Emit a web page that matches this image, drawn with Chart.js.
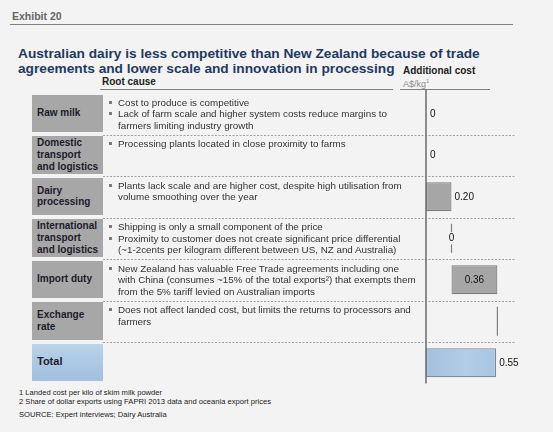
<!DOCTYPE html>
<html>
<head>
<meta charset="utf-8">
<script src="https://cdn.jsdelivr.net/npm/chart.js@4.4.1/dist/chart.umd.min.js"></script>
<style>
  html, body { margin: 0; padding: 0; background: #f3f3f3; }
  body { width: 553px; height: 432px; position: relative; overflow: hidden;
         font-family: "Liberation Sans", Arial, sans-serif; }
  .abs { position: absolute; white-space: nowrap; }
  #chart { position: absolute; left: 0; top: 0; z-index: 1; }
  .rule { position: absolute; height: 0; border-top: 1px solid #7f7f7f; }
  .box { position: absolute; left: 32px; width: 71px; background: #a7a7a7; z-index: 0;
         display: flex; align-items: center; }
  .box span { padding-left: 5px; font-weight: bold; font-size: 10px; line-height: 11.6px;
              color: #1c1c2a; white-space: pre; }
  .box.total { background: linear-gradient(180deg, #bcd3ea 0%, #a9c6e3 60%, #a2bfdf 100%); }
  .box.total span { font-size: 11px; }
  .cause { position: absolute; left: 108px; z-index: 2; font-size: 9.8px; line-height: 11.5px; color: #333; }
  .cause div { position: relative; padding-left: 10px; white-space: pre; }
  .cause div:before { content: ""; position: absolute; left: 1px; top: 4px; width: 3px; height: 3px; background: #7a7a7a; }
</style>
</head>
<body>
<div class="abs" style="left:12px;top:9.5px;font-size:10.5px;line-height:13px;font-weight:bold;color:#666;">Exhibit 20</div>
<div class="rule" style="left:10px;top:24px;width:503px;"></div>

<div class="abs" style="left:18px;top:46px;font-size:13.7px;line-height:15px;font-weight:bold;color:#1f3a60;">Australian dairy is less competitive than New Zealand because of trade<br>agreements and lower scale and innovation in processing</div>

<div class="abs" style="left:102px;top:75.5px;font-size:10px;line-height:12px;font-weight:bold;color:#222;">Root cause</div>
<div class="abs" style="left:403px;top:64.5px;font-size:10px;line-height:12px;font-weight:bold;color:#222;">Additional cost</div>
<div class="abs" style="left:403px;top:75px;font-size:9px;line-height:12px;color:#8c8c8c;">A$/kg<sup style="font-size:6px;">1</sup></div>
<div class="rule" style="left:100px;top:89px;width:293px;"></div>
<div class="rule" style="left:400px;top:89px;width:90px;"></div>

<canvas id="chart" width="553" height="432" style="width:553px;height:432px;"></canvas>

<div class="abs" style="left:19px;top:388px;font-size:7.6px;line-height:9px;color:#222;">1 Landed cost per kilo of skim milk powder<br>2 Share of dollar exports using FAPRI 2013 data and oceania export prices</div>
<div class="abs" style="left:19px;top:410px;font-size:7.6px;line-height:9px;color:#222;">SOURCE: Expert interviews; Dairy Australia</div>

<script>
const categories = ["Raw milk", "Domestic\ntransport\nand logistics", "Dairy\nprocessing",
  "International\ntransport\nand logistics", "Import duty", "Exchange\nrate", "Total"];
const increments = [0, 0, 0.20, 0, 0.36, 0];   // additional cost per step, A$/kg
const totalCost = 0.55;
const valueLabels = ["0", "0", "0.20", "0", "0.36", "", "0.55"];
const xMax = 0.7;

const causes = [
  ["Cost to produce is competitive",
   "Lack of farm scale and higher system costs reduce margins to\nfarmers limiting industry growth"],
  ["Processing plants located in close proximity to farms"],
  ["Plants lack scale and are higher cost, despite high utilisation from\nvolume smoothing over the year"],
  ["Shipping is only a small component of the price",
   "Proximity to customer does not create significant price differential\n(~1-2cents per kilogram different between US, NZ and Australia)"],
  ["New Zealand has valuable Free Trade agreements including one\nwith China (consumes ~15% of the total exports\u00B2) that exempts them\nfrom the 5% tariff levied on Australian imports"],
  ["Does not affect landed cost, but limits the returns to processors and\nfarmers"],
  []
];

// waterfall: each step floats on the running total, total starts at 0
let running = 0;
const floating = increments.map(v => {
  const seg = [running, running + v];
  running += v;
  return seg;
});
floating.push([0, totalCost]);
const totalIdx = floating.length - 1;

const costPlugin = {
  id: "costPlugin",
  beforeDatasetsDraw(chart) {
    const { ctx, scales: { y } } = chart;
    const step = y.getPixelForValue(1) - y.getPixelForValue(0);
    ctx.save();
    // dotted row separators
    ctx.strokeStyle = "#a0a0a0";
    ctx.lineWidth = 1;
    ctx.setLineDash([2, 1.5]);
    for (let i = 0; i < categories.length - 1; i++) {
      const yy = Math.round(y.getPixelForValue(i) + step / 2) + 0.5;
      ctx.beginPath();
      ctx.moveTo(103, yy);
      ctx.lineTo(516, yy);
      ctx.stroke();
    }
    ctx.restore();
  },
  afterDatasetsDraw(chart) {
    const { ctx, chartArea, scales: { x } } = chart;
    const meta = chart.getDatasetMeta(0);
    const x0 = x.getPixelForValue(0);
    ctx.save();
    // zero-cost steps: thin connector at the running total
    ctx.strokeStyle = "#808080";
    ctx.lineWidth = 1.2;
    meta.data.forEach(bar => {
      if (Math.abs(bar.x - bar.base) < 0.5 && Math.abs(bar.x - x0) > 1) {
        ctx.beginPath();
        ctx.moveTo(bar.x, bar.y - bar.height / 2);
        ctx.lineTo(bar.x, bar.y + bar.height / 2);
        ctx.stroke();
      }
    });
    // value axis line
    ctx.strokeStyle = "#737373";
    ctx.lineWidth = 1.6;
    ctx.beginPath();
    ctx.moveTo(x0, 89);
    ctx.lineTo(x0, chartArea.bottom);
    ctx.stroke();

    // value labels
    ctx.font = "10px 'Liberation Sans', Arial, sans-serif";
    ctx.textBaseline = "middle";
    ctx.fillStyle = "#111";
    meta.data.forEach((bar, i) => {
      const txt = valueLabels[i];
      if (!txt) return;
      const left = Math.min(bar.x, bar.base), right = Math.max(bar.x, bar.base);
      const w = right - left;
      const tw = ctx.measureText(txt).width;
      if (w < 0.5 && Math.abs(left - x0) > 1) {
        ctx.fillStyle = "#f3f3f3";
        ctx.fillRect(left - tw / 2 - 1, bar.y - 6, tw + 2, 12);
        ctx.fillStyle = "#111";
        ctx.textAlign = "center";
        ctx.fillText(txt, left, bar.y);
      } else if (i !== totalIdx && w > tw + 10) {
        ctx.textAlign = "center";
        ctx.fillText(txt, (left + right) / 2, bar.y);
      } else {
        ctx.textAlign = "left";
        ctx.fillText(txt, right + (w < 0.5 ? 4 : 3), bar.y);
      }
    });
    ctx.restore();
  }
};

const chart = new Chart(document.getElementById("chart"), {
  type: "bar",
  data: {
    labels: categories,
    datasets: [{
      data: floating,
      backgroundColor: c => {
        if (c.dataIndex !== totalIdx) return "#a6a6a6";
        const { ctx, chartArea } = c.chart;
        if (!chartArea) return "#aac6e2";
        const g = ctx.createLinearGradient(chartArea.left, 0, chartArea.left + 80, 0);
        g.addColorStop(0, "#a3c0df");
        g.addColorStop(0.5, "#b3cde7");
        g.addColorStop(1, "#a7c3e1");
        return g;
      },
      borderColor: c => c.dataIndex === totalIdx ? "#7e8b98" : "#7f7f7f",
      borderWidth: c => {
        const v = floating[c.dataIndex];
        return v[1] - v[0] === 0 ? 0 : 1.2;
      },
      borderSkipped: false,
      barPercentage: 0.7,
      categoryPercentage: 1
    }]
  },
  options: {
    indexAxis: "y",
    responsive: false,
    animation: false,
    events: [],
    layout: { padding: { left: 426, right: 37.75, top: 93, bottom: 48.5 } },
    plugins: { legend: { display: false }, tooltip: { enabled: false } },
    scales: {
      x: { display: false, min: 0, max: xMax },
      y: { display: false }
    }
  },
  plugins: [costPlugin]
});

// row label boxes and root-cause text, aligned to the category scale
const yScale = chart.scales.y;
const step = yScale.getPixelForValue(1) - yScale.getPixelForValue(0);
categories.forEach((cat, i) => {
  const rowTop = yScale.getPixelForValue(i) - step / 2;
  const box = document.createElement("div");
  box.className = "box" + (i === totalIdx ? " total" : "");
  box.style.top = (rowTop + 1.5) + "px";
  box.style.height = (step - 4) + "px";
  const s = document.createElement("span");
  s.textContent = cat;
  box.appendChild(s);
  document.body.appendChild(box);

  if (causes[i].length) {
    const c = document.createElement("div");
    c.className = "cause";
    c.style.top = (rowTop + 3.5) + "px";
    causes[i].forEach(t => {
      const d = document.createElement("div");
      d.textContent = t;
      c.appendChild(d);
    });
    document.body.appendChild(c);
  }
});
</script>
</body>
</html>
